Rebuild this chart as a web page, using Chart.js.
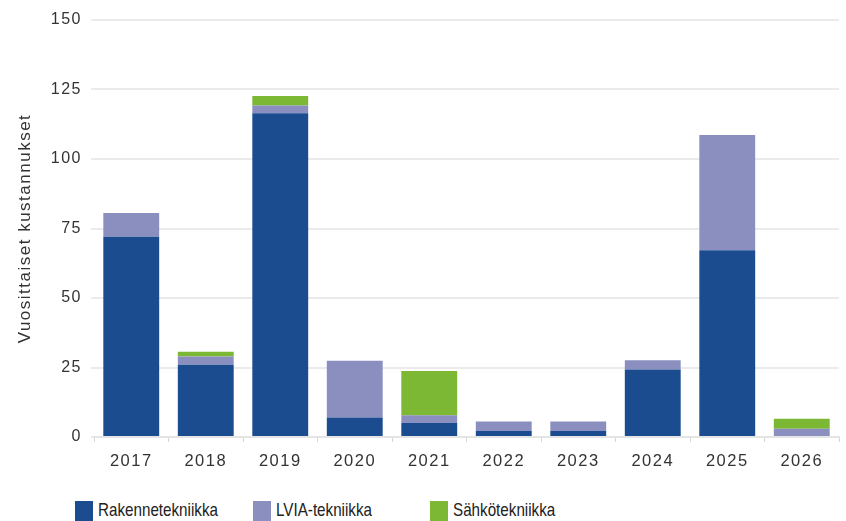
<!DOCTYPE html>
<html>
<head>
<meta charset="utf-8">
<script src="https://cdn.jsdelivr.net/npm/chart.js@4"></script>
<style>
  html, body { margin: 0; padding: 0; background: #fff; }
  #wrap { position: relative; width: 846px; height: 521px; overflow: hidden; font-family: "Liberation Sans", Arial, sans-serif; }
  #box { position: absolute; left: 0; top: 0; width: 846px; height: 486px; }
  #legend { position: absolute; left: 0; top: 501px; width: 846px; height: 24px; }
  .lg { position: absolute; top: 0; height: 20px; }
  .lg i { position: absolute; left: 0; top: 0; width: 18px; height: 22px; }
  .lg span { position: absolute; left: 23px; top: -2px; font-size: 19px; color: #222; white-space: nowrap;
             transform: scaleX(0.8); transform-origin: 0 0; }
</style>
</head>
<body>
<div id="wrap">
  <div id="box"><canvas id="chart"></canvas></div>
  <div id="legend"></div>
</div>
<script>
// Vuosittaiset kustannukset tekniikkalajeittain (pinottu pylväs)
const vuodet = ["2017", "2018", "2019", "2020", "2021", "2022", "2023", "2024", "2025", "2026"];
const rakenne = [72, 26, 116.5, 7, 5, 2.2, 2.2, 24.3, 67.2, 0];
const lvia = [8.6, 3, 2.7, 20.4, 2.8, 3.4, 3.4, 3.3, 41.4, 3];
const sahko = [0, 1.7, 3.5, 0, 15.9, 0, 0, 0, 0, 3.6];
const yTicks = [0, 25, 50, 75, 100, 125, 150];

const sarjat = [
  { label: "Rakennetekniikka", data: rakenne, color: "#1b4c90" },
  { label: "LVIA-tekniikka", data: lvia, color: "#8a8fbf" },
  { label: "Sähkötekniikka", data: sahko, color: "#7cb834" },
];

// harva kirjainväli kuten kuvassa
const vali = {
  id: "vali",
  beforeLayout(c) { c.ctx.letterSpacing = "1.5px"; },
  beforeDraw(c) { c.ctx.letterSpacing = "1.5px"; },
};

new Chart(document.getElementById("chart"), {
  type: "bar",
  plugins: [vali],
  data: {
    labels: vuodet,
    datasets: sarjat.map((s) => ({
      label: s.label,
      data: s.data,
      backgroundColor: s.color,
      borderWidth: 0,
      categoryPercentage: 1,
      barPercentage: 0.75,
    })),
  },
  options: {
    responsive: true,
    maintainAspectRatio: false,
    animation: false,
    layout: { padding: { top: 20, right: 7, left: 0, bottom: 0 } },
    plugins: { legend: { display: false }, tooltip: { enabled: false } },
    scales: {
      x: {
        stacked: true,
        afterFit: (ax) => { ax.height = 49; },
        grid: { drawOnChartArea: false, tickLength: 5, color: "#d8d8d8" },
        border: { color: "#e4e4e4", width: 2 },
        ticks: { color: "#333", font: { family: "Liberation Sans", size: 16.5 }, padding: 10 },
      },
      y: {
        stacked: true,
        min: 0,
        max: 150,
        afterBuildTicks: (ax) => { ax.ticks = yTicks.map((v) => ({ value: v })); },
        afterFit: (ax) => { ax.width = 94; },
        grid: { color: "#ebebeb", lineWidth: 2, tickLength: 3 },
        border: { display: false },
        ticks: { color: "#333", font: { family: "Liberation Sans", size: 16 }, padding: 9 },
        title: {
          display: true,
          text: "Vuosittaiset kustannukset",
          color: "#333",
          font: { family: "Liberation Sans", size: 17 },
          padding: { top: 15, bottom: 0 },
        },
      },
    },
  },
});

// legenda kiinteillä sarakkeilla kuten alkuperäisessä
const lgX = [75, 253, 430];
document.getElementById("legend").innerHTML = sarjat
  .map((s, i) => `<div class="lg" style="left:${lgX[i]}px"><i style="background:${s.color}"></i><span>${s.label}</span></div>`)
  .join("");
</script>
</body>
</html>
